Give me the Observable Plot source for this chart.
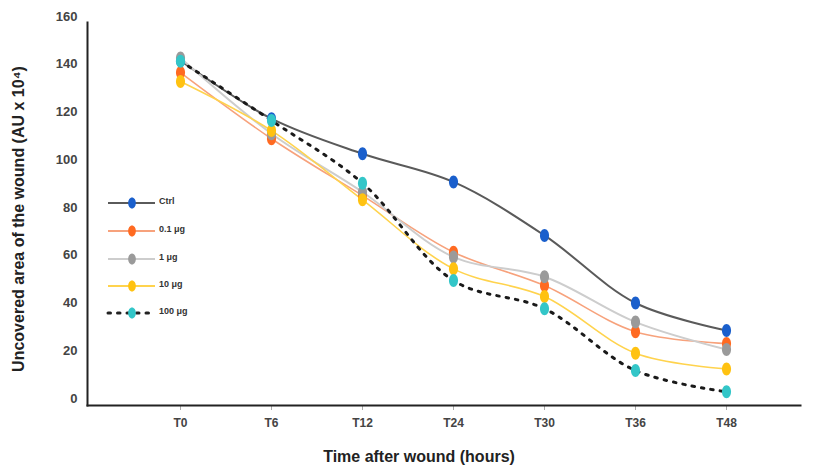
<!DOCTYPE html>
<html>
<head>
<meta charset="utf-8">
<script src="https://cdn.jsdelivr.net/npm/d3@7"></script>
<script src="https://cdn.jsdelivr.net/npm/@observablehq/plot@0.6"></script>
<style>
  body { margin: 0; background: #fff; }
  #wrap { position: relative; width: 815px; height: 473px; }
  #legend { position: absolute; left: 0; top: 0; pointer-events: none; }
</style>
</head>
<body>
<div id="wrap"></div>
<script>
const times = ["T0", "T6", "T12", "T24", "T30", "T36", "T48"];
const seriesNames = ["Ctrl", "0.1 μg", "1 μg", "10 μg", "100 μg"];
const ctrl = [141.5, 117.2, 102.5, 90.7, 68.3, 40.0, 28.5];
const p01  = [136.5, 108.8, 85.0, 61.3, 47.3, 28.0, 23.0];
const p1   = [142.6, 110.9, 86.5, 59.3, 51.0, 32.0, 20.5];
const p10  = [132.8, 112.2, 83.2, 54.3, 42.7, 19.0, 12.4];
const p100 = [141.3, 116.4, 90.2, 49.4, 37.6, 11.7, 2.8];
const yTicks = [0, 20, 40, 60, 80, 100, 120, 140, 160];

const seriesValues = [ctrl, p01, p1, p10, p100];
const lineColors = ["#5a5a5a", "#f7a27c", "#cdcdcd", "#ffd34d", "#1a1a1a"];
const dotColors = ["#1a5fcc", "#ff6a21", "#9a9a9a", "#ffc211", "#33c6c8"];
const lineWidths = [2, 1.6, 2, 1.6, 3];
const dashes = [null, null, null, null, "2.5,7"];

const data = [];
seriesNames.forEach((s, i) => {
  seriesValues[i].forEach((v, j) => data.push({series: s, idx: i, time: times[j], value: v}));
});

// ellipse symbol (taller than wide)
const ellipse = {
  draw(ctx, size) {
    const r = Math.sqrt(size / Math.PI);
    const rx = r * 0.7, ry = r;
    const k = 0.5523;
    ctx.moveTo(rx, 0);
    ctx.bezierCurveTo(rx, k * ry, k * rx, ry, 0, ry);
    ctx.bezierCurveTo(-k * rx, ry, -rx, k * ry, -rx, 0);
    ctx.bezierCurveTo(-rx, -k * ry, -k * rx, -ry, 0, -ry);
    ctx.bezierCurveTo(k * rx, -ry, rx, -k * ry, rx, 0);
    ctx.closePath();
  }
};

const marks = [];
seriesNames.forEach((s, i) => {
  const d = data.filter(e => e.idx === i);
  marks.push(Plot.line(d, {
    x: "time", y: "value", curve: "catmull-rom",
    stroke: lineColors[i], strokeWidth: lineWidths[i],
    strokeDasharray: dashes[i] || undefined,
    strokeLinecap: dashes[i] ? "round" : "butt"
  }));
});
seriesNames.forEach((s, i) => {
  const d = data.filter(e => e.idx === i);
  marks.push(Plot.dot(d, {x: "time", y: "value", r: 6.5, symbol: ellipse, fill: dotColors[i], stroke: "none"}));
});

const chart = Plot.plot({
  width: 815,
  height: 473,
  marginLeft: 87,
  marginRight: 15,
  marginTop: 22,
  marginBottom: 68,
  style: {fontFamily: "'Liberation Sans', Arial, sans-serif", background: "#fff"},
  x: {type: "point", domain: times, range: [178, 728], padding: 0},
  y: {domain: [0, 160], range: [398, 16]},
  marks: [
    Plot.axisX({
      tickSize: 5, tickPadding: 8, stroke: "#aaa",
      fontSize: 12, fontWeight: "bold", fill: "#444",
      label: null
    }),
    Plot.axisY({
      ticks: yTicks, tickSize: 0, tickPadding: 10,
      fontSize: 13, fontWeight: "bold", fill: "#444",
      label: null
    }),
    Plot.frame({anchor: "left", stroke: "#222", strokeWidth: 2}),
    Plot.frame({anchor: "bottom", stroke: "#222", strokeWidth: 2}),
    ...marks,
    Plot.text(["Time after wound (hours)"], {
      frameAnchor: "bottom", dy: 56, dx: -25, text: d => d,
      fontSize: 16, fontWeight: "bold", fill: "#222"
    }),
    Plot.text(["Uncovered area of the wound (AU x 10⁴)"], {
      frameAnchor: "left", dx: -69, rotate: -90, text: d => d, textAnchor: "middle",
      fontSize: 16, fontWeight: "bold", fill: "#222", dy: 5
    })
  ]
});
document.getElementById("wrap").appendChild(chart);

// legend overlay
const legendY = [203, 231, 259, 286, 313];
const svg = d3.select("#wrap").append("svg")
  .attr("id", "legend").attr("width", 815).attr("height", 473);
seriesNames.forEach((s, i) => {
  const g = svg.append("g").attr("transform", `translate(0,${legendY[i]})`);
  g.append("line").attr("x1", 108).attr("x2", 155).attr("y1", 0).attr("y2", 0)
    .attr("stroke", i === 4 ? "#222" : lineColors[i])
    .attr("stroke-width", i === 4 ? 3 : 2.2)
    .attr("stroke-dasharray", dashes[i])
    .attr("stroke-linecap", dashes[i] ? "round" : "butt");
  g.append("path").attr("transform", "translate(132,0)")
    .attr("d", d3.symbol(ellipse, Math.PI * 5.5 * 5.5)())
    .attr("fill", dotColors[i]);
  g.append("text").attr("x", 159).attr("y", 0).attr("dy", "0.1em")
    .attr("font-family", "'Liberation Sans', Arial, sans-serif")
    .attr("font-size", 9).attr("font-weight", "bold").attr("fill", "#333")
    .text(s);
});
</script>
</body>
</html>
